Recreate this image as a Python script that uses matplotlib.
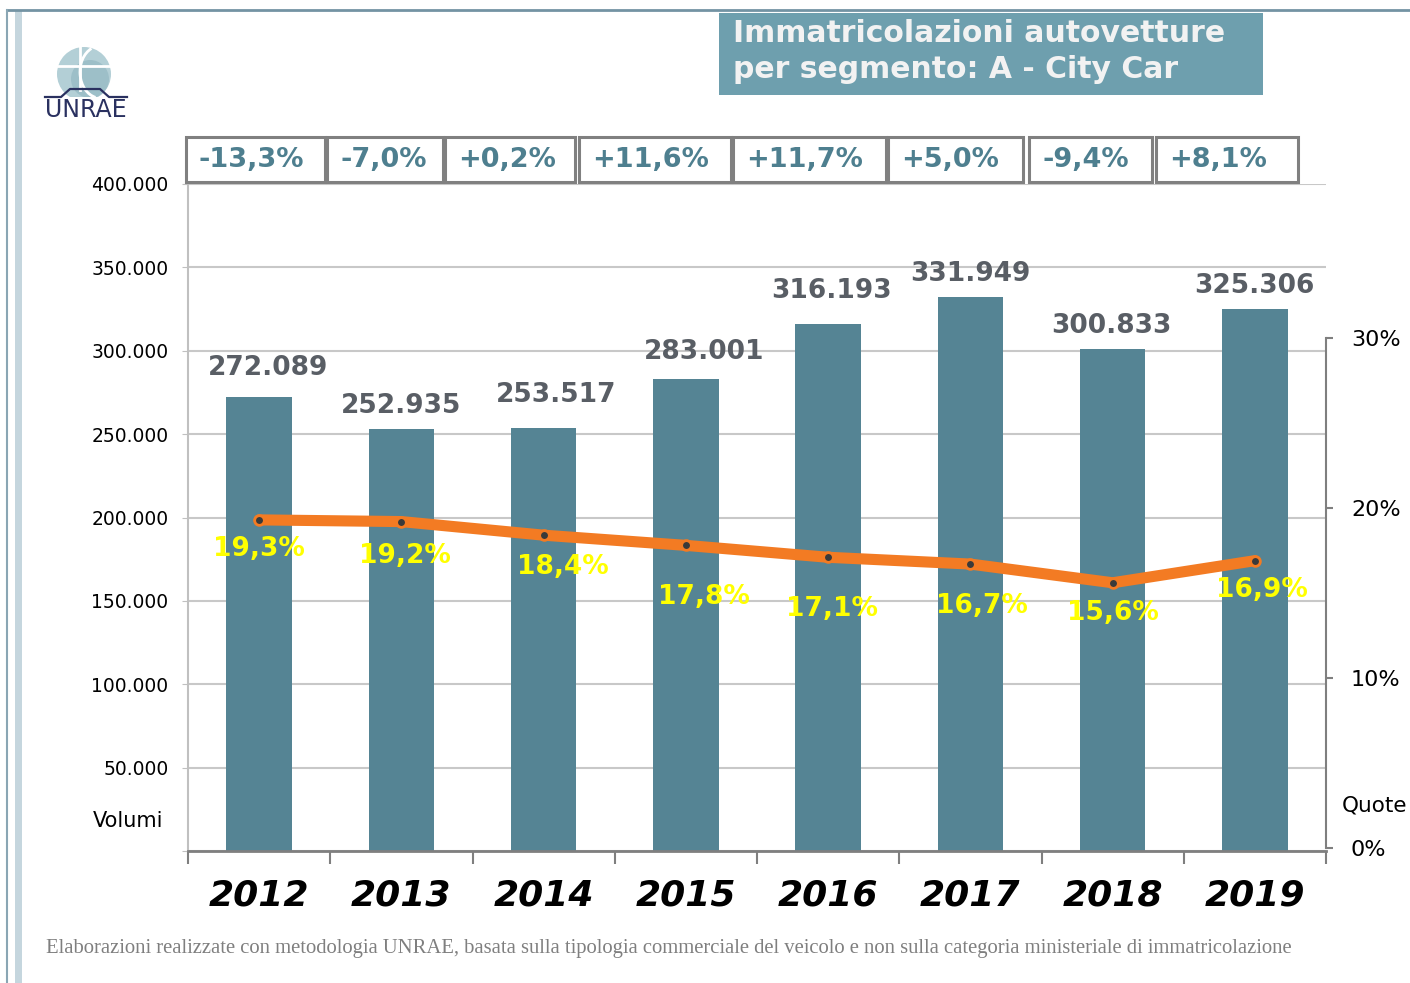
import numpy as np
import matplotlib
matplotlib.use('Agg')
import matplotlib.pyplot as plt
from matplotlib.patches import Rectangle, Circle, Arc

# data
years = ['2012', '2013', '2014', '2015', '2016', '2017', '2018', '2019']
volumi = [272089, 252935, 253517, 283001, 316193, 331949, 300833, 325306]
quote = [19.3, 19.2, 18.4, 17.8, 17.1, 16.7, 15.6, 16.9]
var_yoy = ['-13,3%', '-7,0%', '+0,2%', '+11,6%', '+11,7%', '+5,0%', '-9,4%', '+8,1%']

# layout tweaks (pixels)
vol_lab_dx = [9, 0, 12, 18, 3, 0, -1, 0]
vol_lab_dy = [29, 23, 33, 27, 33, 23, 23, 23]
q_lab_dx = [0, 4, 19, 18, 4, 12, 0, 7]
q_lab_dy = [29, 34, 32, 52, 52, 42, 30, 29]
box_left = [186, 327, 445, 579, 733, 888, 1029, 1156]
box_right = [325, 443, 575, 731, 886, 1023, 1152, 1298]

W, H = 1410, 983
PX = 72 / 100  # pixels -> points

bar_col = '#558494'
line_col = '#f37b23'
grey_txt = '#595e65'
box_txt = '#4e7f8f'

fig = plt.figure(figsize=(W / 100, H / 100), dpi=100)
fig.patch.set_facecolor('white')

ax = fig.add_axes([188 / W, 1 - 851 / H, 1138 / W, 667 / H])
x = np.arange(len(years))
ax.bar(x, volumi, width=0.46, color=bar_col, zorder=2)
ax.set_xlim(-0.5, len(years) - 0.5)
ax.set_ylim(0, 400000)

yt = np.arange(0, 400001, 50000)
ax.set_yticks(yt)
ax.set_yticklabels(['' if v == 0 else f'{v:,}'.replace(',', '.') for v in yt], fontsize=13.5)
ax.tick_params(axis='y', length=4, color='#c0c0c0', pad=10)
ax.yaxis.grid(True, color='#c8c8c8', lw=1.5, zorder=0)
ax.set_axisbelow(True)

ax.set_xticks(x)
ax.set_xticklabels(years, fontsize=26, fontweight='bold', fontstyle='italic')
ax.tick_params(axis='x', which='major', length=0, pad=20)
ax.set_xticks(np.arange(-0.5, len(years)), minor=True)
ax.tick_params(axis='x', which='minor', length=9, width=1.5, color='#7f7f7f')

for s in ['top', 'right']:
    ax.spines[s].set_visible(False)
ax.spines['left'].set_color('#c0c0c0')
ax.spines['left'].set_linewidth(1.5)
ax.spines['bottom'].set_color('#7f7f7f')
ax.spines['bottom'].set_linewidth(2)

for i, v in enumerate(volumi):
    ax.annotate(f'{v:,}'.replace(',', '.'), (x[i], v),
                xytext=(vol_lab_dx[i] * PX, vol_lab_dy[i] * PX), textcoords='offset points',
                ha='center', va='center', fontsize=19, fontweight='bold', color=grey_txt)

# quote on right axis
ax2 = ax.twinx()
ax2.set_ylim(-0.18, 39.06)
ax2.plot(x, quote, color=line_col, lw=8, solid_capstyle='round', zorder=3)
ax2.plot(x, quote, 'o', ms=7, mfc='#3a3a3a', mec=line_col, mew=2, zorder=4)
for s in ['top', 'left', 'bottom']:
    ax2.spines[s].set_visible(False)
ax2.spines['right'].set_bounds(0, 30)
ax2.spines['right'].set_color('#7f7f7f')
ax2.spines['right'].set_linewidth(1.5)
ax2.set_yticks([0, 10, 20, 30])
ax2.set_yticklabels(['0%', '10%', '20%', '30%'], fontsize=16)
ax2.tick_params(axis='y', length=5, width=1.5, color='#7f7f7f', pad=13)

for i, q in enumerate(quote):
    ax2.annotate(f'{q:.1f}%'.replace('.', ','), (x[i], q),
                 xytext=(q_lab_dx[i] * PX, -q_lab_dy[i] * PX), textcoords='offset points',
                 ha='center', va='center', fontsize=19, fontweight='bold', color='#ffff00',
                 zorder=5)

# overlay for frame, title, logo, boxes, footer
ov = fig.add_axes([0, 0, 1, 1])
ov.set_xlim(0, W)
ov.set_ylim(H, 0)
ov.axis('off')

ov.plot([7, W], [10, 10], color='#7393a3', lw=2)
ov.plot([7, 7], [10, H], color='#8aa6b4', lw=1.5)
ov.add_patch(Rectangle((15, 10), 7, H, facecolor='#c5d6de', edgecolor='none'))

ov.add_patch(Rectangle((719, 13), 544, 82, facecolor='#6e9fae', edgecolor='none'))
ov.text(733, 34, 'Immatricolazioni autovetture', fontsize=21.5, fontweight='bold',
        color='#f2f2f2', va='center')
ov.text(733, 69, 'per segmento: A - City Car', fontsize=21.5, fontweight='bold',
        color='#f2f2f2', va='center')

# logo
ov.add_patch(Circle((84, 74), 27, facecolor='#b3cfd6', edgecolor='none'))
ov.add_patch(Circle((90, 79), 19, facecolor='#9dbfc8', edgecolor='none'))
ov.plot([58, 110], [66, 66], color='white', lw=2)
ov.plot([80, 80], [47, 90], color='white', lw=2)
ov.add_patch(Arc((100, 72), 40, 52, theta1=100, theta2=250, color='white', lw=2))
ov.add_patch(Rectangle((44, 97), 86, 6, facecolor='white', edgecolor='none'))
ov.plot([45, 61, 70, 100, 109, 127], [97, 97, 89, 89, 97, 97], color='#2a3160', lw=1.6)
ov.text(86, 110, 'UNRAE', fontsize=17, color='#2a3160', ha='center', va='center')

for i, t in enumerate(var_yoy):
    ov.add_patch(Rectangle((box_left[i], 137), box_right[i] - box_left[i], 45,
                           facecolor='white', edgecolor='#808080', lw=2.2))
    ov.text(box_left[i] + 13, 160, t, fontsize=19.5, fontweight='bold', color=box_txt,
            va='center', ha='left')

ov.text(128, 821, 'Volumi', fontsize=15, ha='center', va='center')
ov.text(1342, 805, 'Quote', fontsize=15.5, va='center', ha='left')

ov.text(46, 949, 'Elaborazioni realizzate con metodologia UNRAE, basata sulla tipologia '
        'commerciale del veicolo e non sulla categoria ministeriale di immatricolazione',
        fontfamily='Liberation Serif', fontsize=14.9, color='#7f7f7f', va='center')

fig.savefig('out.png', dpi=100)
